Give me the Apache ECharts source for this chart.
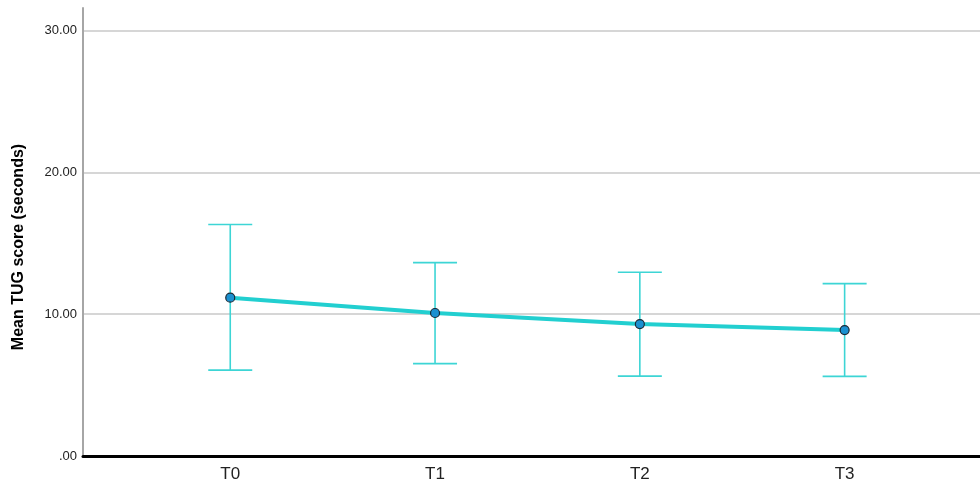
<!DOCTYPE html>
<html>
<head>
<meta charset="utf-8">
<script src="https://cdn.jsdelivr.net/npm/echarts@6/dist/echarts.min.js"></script>
<style>
html,body{margin:0;padding:0;background:#fff;}
#chart{width:980px;height:487px;}
</style>
</head>
<body>
<div id="chart"></div>
<script>
const categories = ['T0', 'T1', 'T2', 'T3'];
const meanValues = [11.16, 10.08, 9.30, 8.88];
const upperValues = [16.32, 13.63, 12.95, 12.15];
const lowerValues = [6.05, 6.51, 5.63, 5.61];
const yTicks = [0, 10, 20, 30];
const yTitle = 'Mean TUG score (seconds)';

const chart = echarts.init(document.getElementById('chart'), null, {renderer: 'canvas'});
const FONT = '"Liberation Sans", Arial, sans-serif';

const option = {
  animation: false,
  backgroundColor: '#ffffff',
  grid: {left: 83, right: 0, top: 8, bottom: 31, containLabel: false},
  xAxis: {
    type: 'value',
    min: -0.719,
    max: 3.661,
    splitLine: {show: false},
    axisTick: {show: false},
    axisLine: {show: true, onZero: false, lineStyle: {color: '#000000', width: 3}},
    axisLabel: {
      customValues: categories.map((c, i) => i),
      formatter: v => categories[Math.round(v)],
      color: '#222222',
      fontFamily: FONT,
      fontSize: 17,
      margin: 10
    }
  },
  yAxis: {
    type: 'value',
    min: 0,
    max: 31.58,
    interval: 10,
    name: yTitle,
    nameLocation: 'middle',
    nameGap: 56,
    nameRotate: 90,
    nameTextStyle: {
      fontFamily: FONT, fontSize: 16, fontWeight: 'bold', color: '#000000',
      padding: [0, 30, 0, 0]
    },
    axisLine: {show: true, onZero: false, lineStyle: {color: '#a6a6a6', width: 2}},
    axisTick: {show: false},
    splitLine: {show: true, showMaxLine: false, lineStyle: {color: '#c8c8c8', width: 1.5}},
    axisLabel: {
      customValues: yTicks,
      formatter: v => v === 0 ? '.00' : v.toFixed(2),
      color: '#222222',
      fontFamily: FONT,
      fontSize: 13,
      margin: 6
    }
  },
  series: [
    {
      type: 'custom',
      z: 2,
      encode: {x: 0, y: [1, 2]},
      data: categories.map((c, i) => [i, upperValues[i], lowerValues[i]]),
      renderItem: function (params, api) {
        const x = api.value(0);
        const hi = api.coord([x, api.value(1)]);
        const lo = api.coord([x, api.value(2)]);
        const w = 22;
        const style = {stroke: '#3dd5d5', lineWidth: 1.6, fill: null};
        return {
          type: 'group',
          children: [
            {type: 'line', shape: {x1: hi[0], y1: hi[1], x2: lo[0], y2: lo[1]}, style: style},
            {type: 'line', shape: {x1: hi[0] - w, y1: hi[1], x2: hi[0] + w, y2: hi[1]}, style: style},
            {type: 'line', shape: {x1: lo[0] - w, y1: lo[1], x2: lo[0] + w, y2: lo[1]}, style: style}
          ]
        };
      }
    },
    {
      type: 'line',
      z: 3,
      data: meanValues.map((v, i) => [i, v]),
      symbol: 'circle',
      symbolSize: 9,
      lineStyle: {color: '#22cfd0', width: 4},
      itemStyle: {color: '#1b90d0', borderColor: '#1a2a35', borderWidth: 1.2},
      emphasis: {disabled: true}
    }
  ]
};
chart.setOption(option);
</script>
</body>
</html>
